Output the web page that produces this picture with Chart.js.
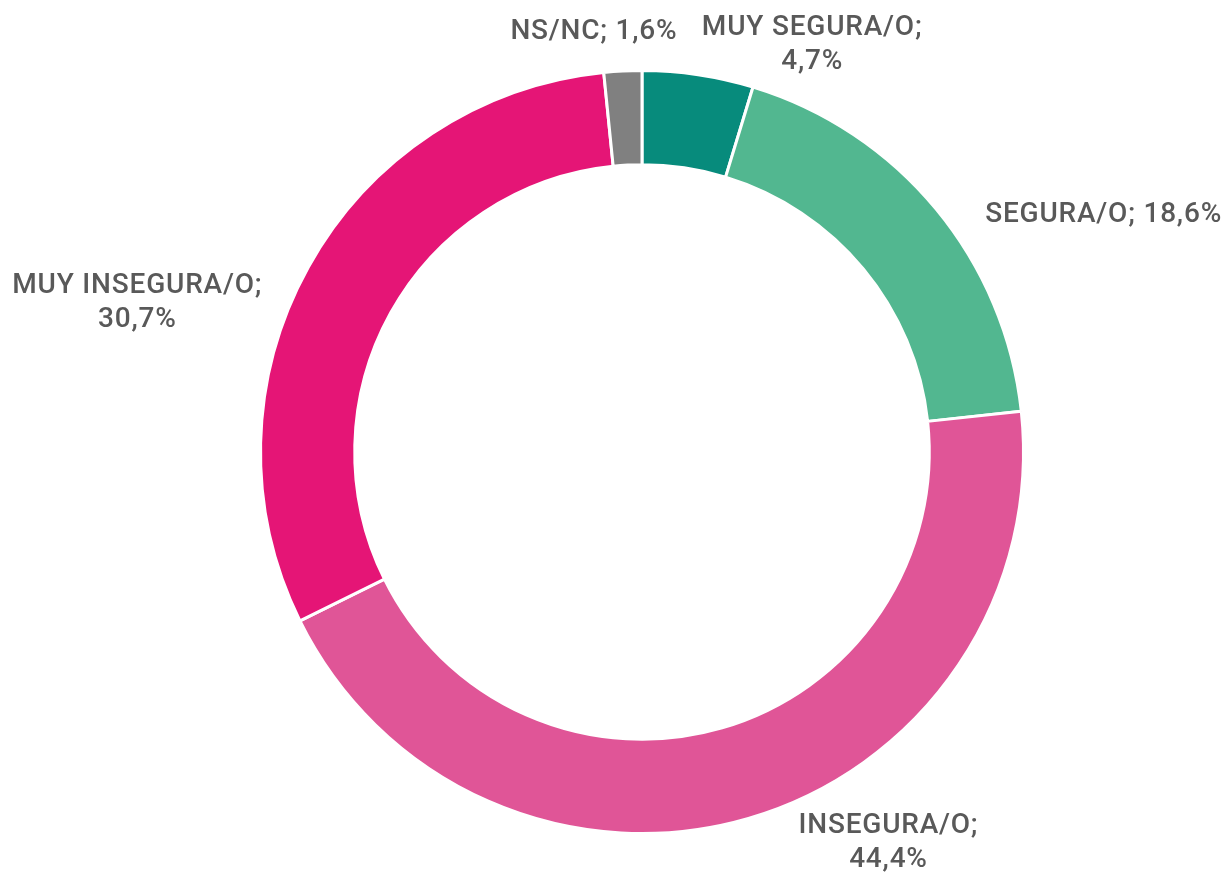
<!DOCTYPE html>
<html><head><meta charset="utf-8">
<script src="https://cdn.jsdelivr.net/npm/chart.js@4/dist/chart.umd.min.js"></script>
<style>html,body{margin:0;padding:0;background:#fff}#w{width:1232px;height:875px}</style>
</head><body><div id="w"><canvas id="c"></canvas></div>
<script>
const categories = ['MUY SEGURA/O', 'SEGURA/O', 'INSEGURA/O', 'MUY INSEGURA/O', 'NS/NC'];
const values = [4.7, 18.6, 44.4, 30.7, 1.6];
const valueLabels = ['4,7%', '18,6%', '44,4%', '30,7%', '1,6%'];
const colors = ['#078B7C', '#52B790', '#E05597', '#E51576', '#808080'];
// label line layout: 2 = name;/value on two lines, 1 = single line
const labelLines = [2, 1, 2, 2, 1];
// label placement relative to chart centre, in units of outer radius
const labelOffsets = [[0.446, -1.068], [1.210, -0.622], [0.646, 1.024], [-1.323, -0.391], [-0.126, -1.100]];

const labelPlugin = {
  id: 'outLabels',
  afterDatasetsDraw(chart) {
    const ctx = chart.ctx;
    const meta = chart.getDatasetMeta(0);
    ctx.save();
    ctx.font = '500 28px Roboto, "Noto Sans", sans-serif';
    ctx.fillStyle = '#595959';
    ctx.textAlign = 'center';
    ctx.textBaseline = 'middle';
    try { ctx.letterSpacing = '0.8px'; } catch (e) {}
    meta.data.forEach((arc, i) => {
      const R = arc.outerRadius;
      const x = arc.x + labelOffsets[i][0] * R;
      const y = arc.y + labelOffsets[i][1] * R;
      if (labelLines[i] === 2) {
        ctx.fillText(categories[i] + ';', x, y - 17);
        ctx.fillText(valueLabels[i], x, y + 17);
      } else {
        ctx.fillText(categories[i] + '; ' + valueLabels[i], x, y);
      }
    });
    ctx.restore();
  }
};

new Chart(document.getElementById('c'), {
  type: 'doughnut',
  data: {
    labels: categories,
    datasets: [{
      data: values,
      backgroundColor: colors,
      borderColor: '#ffffff',
      borderWidth: 3,
      hoverOffset: 0
    }]
  },
  options: {
    responsive: true,
    maintainAspectRatio: false,
    animation: false,
    cutout: '75.3%',
    layout: { padding: { top: 69, bottom: 40, left: 52, right: 0 } },
    plugins: { legend: { display: false }, tooltip: { enabled: false } },
    events: []
  },
  plugins: [labelPlugin]
});
</script></body></html>
